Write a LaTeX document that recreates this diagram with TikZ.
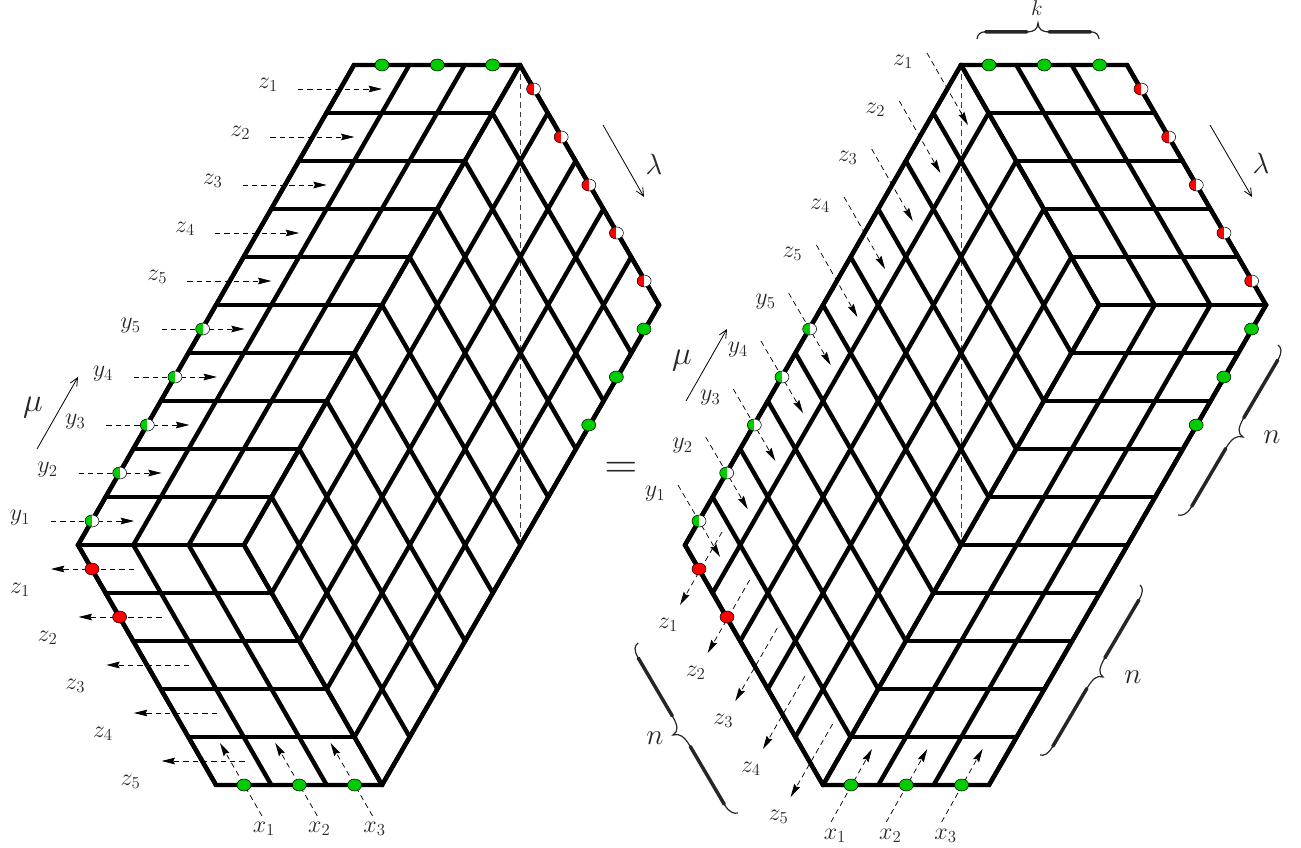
\RequirePackage{fix-cm}
\documentclass[tikz,border=0pt]{standalone}
\usetikzlibrary{calc,arrows.meta,shapes.geometric}
\definecolor{mygreen}{RGB}{0,204,0}
\tikzset{
  gridline/.style={line width=3.3pt,line cap=round},
  hexline/.style={line width=3.3pt,line join=miter},
  dashar/.style={line width=0.55pt,dash pattern=on 4pt off 3pt,-{Stealth[length=10pt,width=5pt,inset=1.2pt]}},
  vdash/.style={line width=0.55pt,dash pattern=on 4pt off 3pt,black!75},
  thinar/.style={line width=0.6pt,-{Straight Barb[length=6pt,width=5.5pt]}},
  dotbase/.style={ellipse,draw=black,line width=0.4pt,inner sep=0pt,minimum width=10.5pt,minimum height=9pt},
  gdot/.style={dotbase,fill=mygreen},
  rdot/.style={dotbase,fill=red},
  gwdot/.style={dotbase,fill=white,path picture={\fill[mygreen] (path picture bounding box.south west) rectangle (path picture bounding box.north);}},
  rwdot/.style={dotbase,fill=white,path picture={\fill[red] (path picture bounding box.south west) rectangle (path picture bounding box.north);}},
  lbl/.style={inner sep=0pt,text=black!85,font=\fontsize{18}{21}\selectfont},
  klbl/.style={inner sep=0pt,text=black!85,font=\fontsize{16}{19}\selectfont},
  biglbl/.style={inner sep=0pt,text=black!85,font=\fontsize{22}{26}\selectfont},
  mulbl/.style={inner sep=0pt,text=black!85,font=\fontsize{25}{30}\selectfont},
  bracethin/.style={line width=0.9pt,black!85},
  bracethick/.style={line width=2.6pt,black!85,line cap=round}
}
% parallelogram face A,B,C,D with #5 cells along AB and #6 cells along BC
\newcommand\gridface[6]{%
  \foreach \i in {0,...,#5}{\draw[gridline] ($(#1)!{\i/#5}!(#2)$) -- ($(#4)!{\i/#5}!(#3)$);}
  \foreach \j in {0,...,#6}{\draw[gridline] ($(#1)!{\j/#6}!(#4)$) -- ($(#2)!{\j/#6}!(#3)$);}
}
% curly brace from end A to end B with its tip at T
\newcommand\curly[3]{%
  \coordinate (bM) at ($(#1)!0.5!(#2)$);
  \coordinate (bN) at ($(#3)-(bM)$);
  \coordinate (b1) at ($(#1)!0.005!(#2)+0.25*(bN)$);
  \coordinate (b2) at ($(#1)!0.02!(#2)+0.45*(bN)$);
  \coordinate (b3) at ($(#1)!0.07!(#2)+0.45*(bN)$);
  \coordinate (b4) at ($(#1)!0.41!(#2)+0.45*(bN)$);
  \coordinate (b5) at ($(#1)!0.47!(#2)+0.45*(bN)$);
  \coordinate (b6) at ($(#1)!0.495!(#2)+0.60*(bN)$);
  \coordinate (b7) at ($(#1)!0.505!(#2)+0.60*(bN)$);
  \coordinate (b8) at ($(#1)!0.53!(#2)+0.45*(bN)$);
  \coordinate (b9) at ($(#1)!0.59!(#2)+0.45*(bN)$);
  \coordinate (b10) at ($(#1)!0.93!(#2)+0.45*(bN)$);
  \coordinate (b11) at ($(#1)!0.98!(#2)+0.45*(bN)$);
  \coordinate (b12) at ($(#1)!0.995!(#2)+0.25*(bN)$);
  \draw[bracethin] (#1) .. controls (b1) and (b2) .. (b3) -- (b4)
    .. controls (b5) and (b6) .. (#3) .. controls (b7) and (b8) .. (b9) -- (b10)
    .. controls (b11) and (b12) .. (#2);
  \draw[bracethick] (b3) -- (b4);
  \draw[bracethick] (b9) -- (b10);
}
\begin{document}
\begin{tikzpicture}[x=0.75pt,y=-0.75pt]
\useasboundingbox (0,0) rectangle (1301,848);

% ---------- corners of the left figure ----------
\coordinate (LTL) at (354,65);
\coordinate (LTR) at (520,65);
\coordinate (LRV) at (659,305);
\coordinate (LBR) at (382,785);
\coordinate (LBL) at (216,785);
\coordinate (LLV) at (78,545);
\coordinate (LIN) at (244,545);
\coordinate (LDE) at (520,545);
% ---------- corners of the right figure ----------
\coordinate (RTL) at (961,65);
\coordinate (RTR) at (1127,65);
\coordinate (RRV) at (1266,305);
\coordinate (RBR) at (989,785);
\coordinate (RBL) at (823,785);
\coordinate (RLV) at (685,545);
\coordinate (RIN) at (1099,305);
\coordinate (RDE) at (961,545);

% ---------- dashed verticals ----------
\draw[vdash] (LTR) -- (LDE);
\draw[vdash] (RTL) -- (RDE);

% ---------- left figure dashed arrows ----------
\foreach \i in {1,...,5}{
  \coordinate (lzs\i) at ({298-27.65*(\i-1)},{89+48*(\i-1)});
  \coordinate (lze\i) at ({382-27.65*(\i-1)},{89+48*(\i-1)});
  \draw[dashar] (lzs\i) -- (lze\i);
  \node[lbl] (lzt\i) at ({268-27.65*(\i-1)},{85+48*(\i-1)}) {$z_{\i}$};
  \coordinate (lys\i) at ({51+27.65*(\i-1)},{521-48*(\i-1)});
  \coordinate (lye\i) at ({134+27.65*(\i-1)},{521-48*(\i-1)});
  \draw[dashar] (lys\i) -- (lye\i);
  \node[lbl] (lyt\i) at ({20+27.65*(\i-1)},{518-48*(\i-1)}) {$y_{\i}$};
  \coordinate (lws\i) at ({134+27.65*(\i-1)},{569+48*(\i-1)});
  \coordinate (lwe\i) at ({51+27.65*(\i-1)},{569+48*(\i-1)});
  \draw[dashar] (lws\i) -- (lwe\i);
  \node[lbl] (lwt\i) at ({20+27.65*(\i-1)},{590+48*(\i-1)}) {$z_{\i}$};
}
\foreach \i in {1,2,3}{
  \coordinate (lxs\i) at ({262+55.3*(\i-1)},816);
  \coordinate (lxe\i) at ({220+55.3*(\i-1)},743);
  \draw[dashar] (lxs\i) -- (lxe\i);
  \node[lbl] (lxt\i) at ({264+55.3*(\i-1)},829) {$x_{\i}$};
}

% ---------- right figure dashed arrows ----------
\foreach \i in {1,...,5}{
  \coordinate (rzs\i) at ({927-27.65*(\i-1)},{53+48*(\i-1)});
  \coordinate (rze\i) at ({968-27.65*(\i-1)},{125+48*(\i-1)});
  \draw[dashar] (rzs\i) -- (rze\i);
  \node[lbl] (rzt\i) at ({903-27.65*(\i-1)},{62+48*(\i-1)}) {$z_{\i}$};
  \coordinate (rys\i) at ({678+27.65*(\i-1)},{485-48*(\i-1)});
  \coordinate (rye\i) at ({720+27.65*(\i-1)},{557-48*(\i-1)});
  \draw[dashar] (rys\i) -- (rye\i);
  \node[lbl] (ryt\i) at ({655+27.65*(\i-1)},{494-48*(\i-1)}) {$y_{\i}$};
  \coordinate (rws\i) at ({722+27.65*(\i-1)},{532+48*(\i-1)});
  \coordinate (rwe\i) at ({680+27.65*(\i-1)},{605+48*(\i-1)});
  \draw[dashar] (rws\i) -- (rwe\i);
  \node[lbl] (rwt\i) at ({668+27.65*(\i-1)},{625+48*(\i-1)}) {$z_{\i}$};
}
\foreach \i in {1,2,3}{
  \coordinate (rxs\i) at ({831+55.3*(\i-1)},822);
  \coordinate (rxe\i) at ({872+55.3*(\i-1)},749);
  \draw[dashar] (rxs\i) -- (rxe\i);
  \node[lbl] (rxt\i) at ({835+55.3*(\i-1)},836) {$x_{\i}$};
}

% ---------- lattices ----------
\gridface{LTL}{LTR}{LIN}{LLV}{3}{10}
\gridface{LLV}{LIN}{LBR}{LBL}{3}{5}
\gridface{LTR}{LRV}{LBR}{LIN}{5}{10}
\draw[hexline] (LTL) -- (LTR) -- (LRV) -- (LBR) -- (LBL) -- (LLV) -- cycle;

\gridface{RTL}{RTR}{RRV}{RIN}{3}{5}
\gridface{RIN}{RRV}{RBR}{RBL}{3}{10}
\gridface{RTL}{RIN}{RBL}{RLV}{5}{10}
\draw[hexline] (RTL) -- (RTR) -- (RRV) -- (RBR) -- (RBL) -- (RLV) -- cycle;

% ---------- markers, left figure ----------
\foreach \i in {1,2,3}{
  \node[gdot] (lgt\i) at ({382+55.3*(\i-1)},65) {};
  \node[gdot] (lgb\i) at ({244+55.3*(\i-1)},785) {};
  \node[gdot] (lgr\i) at ({644-27.65*(\i-1)},{329+48*(\i-1)}) {};
}
\foreach \i in {1,...,5}{
  \node[rwdot] (lrw\i) at ({533.5+27.65*(\i-1)},{89+48*(\i-1)}) {};
  \node[gwdot] (lgw\i) at ({92+27.65*(\i-1)},{521-48*(\i-1)}) {};
}
\node[rdot] (lr1) at (92,569) {};
\node[rdot] (lr2) at (119.6,617) {};

% ---------- markers, right figure ----------
\foreach \i in {1,2,3}{
  \node[gdot] (rgt\i) at ({989+55.3*(\i-1)},65) {};
  \node[gdot] (rgb\i) at ({851+55.3*(\i-1)},785) {};
  \node[gdot] (rgr\i) at ({1251.5-27.65*(\i-1)},{329+48*(\i-1)}) {};
}
\foreach \i in {1,...,5}{
  \node[rwdot] (rrw\i) at ({1141+27.65*(\i-1)},{89+48*(\i-1)}) {};
  \node[gwdot] (rgw\i) at ({699+27.65*(\i-1)},{521-48*(\i-1)}) {};
}
\node[rdot] (rr1) at (699,569) {};
\node[rdot] (rr2) at (727,617) {};

% ---------- lambda and mu ----------
\coordinate (lla) at (603,125); \coordinate (llb) at (644,197);
\draw[thinar] (lla) -- (llb);
\node[biglbl] (llt) at (654,164) {$\lambda$};
\coordinate (lma) at (37,449); \coordinate (lmb) at (78,377);
\draw[thinar] (lma) -- (lmb);
\node[mulbl] (lmt) at (33,408) {$\mu$};
\coordinate (rla) at (1210,125); \coordinate (rlb) at (1252,197);
\draw[thinar] (rla) -- (rlb);
\node[biglbl] (rlt) at (1261,163) {$\lambda$};
\coordinate (rma) at (686,401); \coordinate (rmb) at (727,329);
\draw[thinar] (rma) -- (rmb);
\node[mulbl] (rmt) at (682,361) {$\mu$};

% ---------- equals sign ----------
\node[inner sep=0pt,text=black!85,font=\fontsize{34}{40}\selectfont] (eq) at (621,470) {$=$};

% ---------- braces ----------
\coordinate (kA) at (977,39); \coordinate (kB) at (1099,39); \coordinate (kT) at (1038,23);
\curly{kA}{kB}{kT}
\node[klbl] (kt) at (1037,8) {$k$};
\coordinate (nAa) at (1278,345); \coordinate (nAb) at (1178,515); \coordinate (nAt) at (1243,437);
\curly{nAa}{nAb}{nAt}
\node[biglbl] (nAl) at (1272,437) {$n$};
\coordinate (nBa) at (1140,585); \coordinate (nBb) at (1040,755); \coordinate (nBt) at (1103,677);
\curly{nBa}{nBb}{nBt}
\node[biglbl] (nBl) at (1133,677) {$n$};
\coordinate (nCa) at (638,643); \coordinate (nCb) at (738,813); \coordinate (nCt) at (673,735);
\curly{nCa}{nCb}{nCt}
\node[biglbl] (nCl) at (655,738) {$n$};
\end{tikzpicture}
\end{document}
